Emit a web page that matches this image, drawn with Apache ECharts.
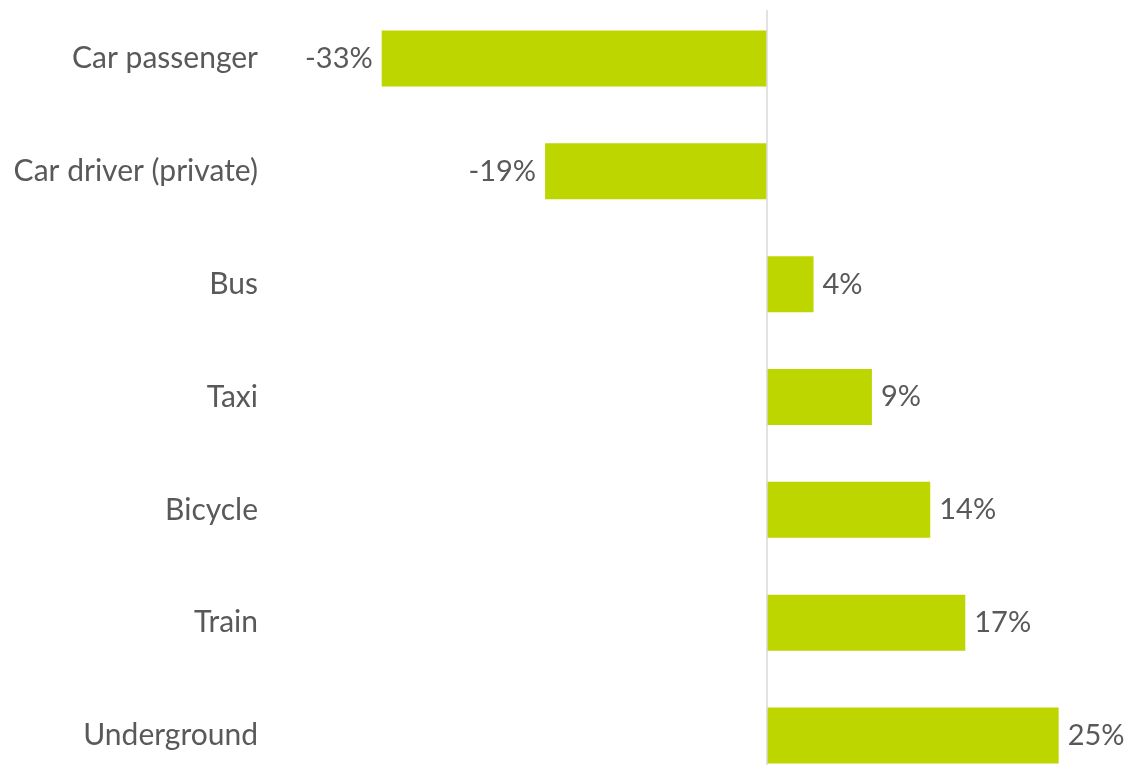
<!DOCTYPE html>
<html>
<head>
<meta charset="utf-8">
<script src="https://cdn.jsdelivr.net/npm/echarts@6/dist/echarts.min.js"></script>
<style>
  html, body { margin: 0; padding: 0; background: #ffffff; }
  #chart { width: 1131px; height: 765px; }
</style>
</head>
<body>
<div id="chart"></div>
<script>
// Change in share of trips by mode of transport (%)
const categories = ['Car passenger', 'Car driver (private)', 'Bus', 'Taxi', 'Bicycle', 'Train', 'Underground'];
const changes = [-33, -19, 4, 9, 14, 17, 25];

const barColor = '#bdd600';
const textColor = '#595959';
const fontFamily = 'Lato, "Open Sans", sans-serif';

// Negative bars carry their label on the left, positive ones on the right
const barData = changes.map(v => ({
  value: v,
  label: { position: v < 0 ? 'left' : 'right' }
}));

const chart = echarts.init(document.getElementById('chart'), null, { renderer: 'canvas' });
chart.setOption({
  animation: false,
  backgroundColor: '#ffffff',
  grid: {
    left: 300, right: 14, top: 2, height: 790,
    containLabel: false,
    outerBoundsMode: 'none'
  },
  xAxis: {
    type: 'value',
    min: -40,
    max: 30,
    show: false
  },
  yAxis: {
    type: 'category',
    data: categories,
    inverse: true,
    axisLine: { show: false, onZero: false },
    axisTick: { show: false },
    splitLine: { show: false },
    axisLabel: {
      margin: 42,
      color: textColor,
      fontFamily: fontFamily,
      fontSize: 30
    }
  },
  series: [{
    type: 'bar',
    data: barData,
    barWidth: 56,
    itemStyle: { color: barColor },
    label: {
      show: true,
      distance: 9,
      color: textColor,
      fontFamily: fontFamily,
      fontSize: 29,
      formatter: p => p.value + '%'
    },
    // Zero baseline, running from just above the first bar to the bottom edge
    markLine: {
      silent: true,
      symbol: 'none',
      label: { show: false },
      lineStyle: { color: '#d9d9d9', width: 1.5, type: 'solid' },
      data: [[
        { coord: [0, 0], y: 10 },
        { coord: [0, categories.length - 1], y: 765 }
      ]]
    }
  }]
});
</script>
</body>
</html>
